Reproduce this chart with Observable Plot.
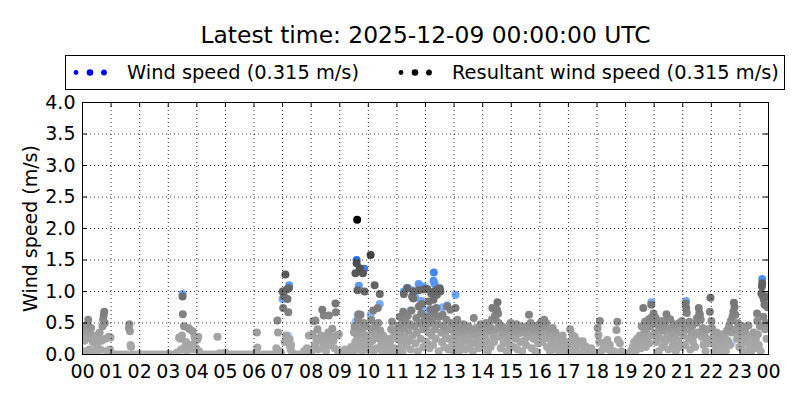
<!DOCTYPE html>
<html><head><meta charset="utf-8">
<script src="https://cdn.jsdelivr.net/npm/d3@7"></script>
<script src="https://cdn.jsdelivr.net/npm/@observablehq/plot@0.6"></script>
<style>body{margin:0;background:#fff;} svg{font-family:"DejaVu Sans",sans-serif;}</style>
</head><body><div id="chart"></div>
<script>
const titleText = "Latest time: 2025-12-09 00:00:00 UTC";
const legendLabels = ["Wind speed (0.315 m/s)", "Resultant wind speed (0.315 m/s)"];
const yLabel = "Wind speed (m/s)";
const hourTicks = [0,1,2,3,4,5,6,7,8,9,10,11,12,13,14,15,16,17,18,19,20,21,22,23,24];
const yTicks = [0,0.5,1,1.5,2,2.5,3,3.5,4];

// [hour of day, resultant wind speed m/s]
const resultant = [
[0.02,0.45],[0.03,0.3],[0.05,0.05],[0.07,0.22],[0.1,0.38],[0.12,0.02],[0.15,0.28],[0.18,0.48],[0.2,0.55],[0.22,0.35],[0.25,0.08],[0.28,0.25],[0.3,0.42],[0.33,0.02],[0.36,0.2],[0.4,0.3],[0.43,0.05],[0.47,0.22],[0.5,0.15],[0.53,0.03],[0.57,0.25],[0.6,0.35],[0.63,0.08],[0.67,0.22],[0.7,0.45],[0.72,0.55],[0.74,0.62],[0.76,0.68],[0.78,0.5],[0.8,0.25],[0.83,0.05],[0.87,0.02],[0.92,0.28],[0.96,0.08],[0.98,0.27],[1.0,0.02],
[1.05,0],[1.15,0],[1.25,0],[1.35,0],[1.45,0],[1.55,0],[1.62,0.42],[1.64,0.48],[1.66,0.37],[1.68,0.15],[1.7,0.12],[1.75,0],[1.85,0],[1.95,0],
[2.05,0],[2.15,0],[2.25,0],[2.35,0],[2.45,0],[2.55,0],[2.65,0],[2.75,0],[2.85,0],[2.95,0],
[3.05,0],[3.15,0],[3.25,0],[3.3,0.03],[3.38,0.27],[3.42,0.25],[3.45,0.08],[3.48,0.3],[3.5,0.92],[3.51,0.64],[3.55,0.45],[3.58,0.12],[3.62,0.2],[3.65,0.05],[3.7,0.42],[3.75,0.4],[3.8,0.15],[3.85,0.37],[3.88,0.08],[3.92,0.28],[3.95,0.22],[3.98,0.1],
[4.02,0.24],[4.05,0.28],[4.08,0.05],[4.15,0],[4.25,0],[4.35,0],[4.45,0],[4.55,0],[4.65,0],[4.72,0.28],[4.8,0.02],[4.9,0],
[5.0,0.03],[5.1,0],[5.2,0],[5.3,0],[5.4,0],[5.5,0],[5.6,0],[5.7,0],[5.8,0],[5.9,0],
[6.0,0],[6.1,0.35],[6.12,0.11],[6.2,0],[6.3,0],[6.4,0],[6.5,0],[6.6,0],[6.7,0],[6.78,0.1],[6.82,0.54],[6.84,0.35],[6.9,0.05],[6.95,0.02],
[7.0,1.0],[7.02,0.74],[7.05,0.92],[7.08,0.2],[7.1,1.27],[7.12,0.3],[7.15,1.03],[7.17,0.88],[7.2,0.67],[7.22,1.05],[7.24,0.24],[7.26,0.13],[7.28,0.08],[7.3,0.15],[7.35,0.02],[7.45,0],[7.55,0],[7.65,0],[7.75,0.05],[7.85,0.1],[7.92,0.3],[7.95,0.05],
[8.02,0.05],[8.05,0.32],[8.08,0.53],[8.12,0.15],[8.15,0.54],[8.18,0.25],[8.22,0.4],[8.25,0.08],[8.3,0.22],[8.35,0.3],[8.39,0.71],[8.42,0.12],[8.44,0.62],[8.48,0.28],[8.52,0.05],[8.55,0.2],[8.6,0.35],[8.62,0.62],[8.66,0.15],[8.7,0.28],[8.74,0.41],[8.78,0.22],[8.82,0.1],[8.85,0.81],[8.86,0.67],[8.9,0.3],[8.94,0.05],[8.97,0.32],
[9.02,0.05],[9.1,0.02],[9.18,0.08],[9.25,0],[9.32,0.03],[9.4,0.12],[9.45,0.02],[9.5,0.35],[9.52,0.45],[9.54,0.2],[9.55,1.29],[9.57,0.08],[9.59,1.45],[9.6,0.3],[9.61,2.14],[9.62,1.02],[9.64,0.55],[9.66,0.64],[9.68,0.15],[9.7,1.37],[9.72,0.42],[9.73,0.63],[9.76,0.25],[9.78,0.05],[9.8,0.35],[9.81,1.29],[9.84,0.5],[9.86,0.12],[9.87,1.0],[9.9,0.3],[9.93,0.45],[9.96,0.2],[9.98,0.08],
[10.02,0.3],[10.05,0.15],[10.08,1.58],[10.1,0.55],[10.12,0.4],[10.14,0.22],[10.17,0.7],[10.19,0.05],[10.22,1.1],[10.24,0.45],[10.26,0.32],[10.3,0.1],[10.33,0.74],[10.35,0.5],[10.38,0.25],[10.4,0.96],[10.42,0.38],[10.45,0.15],[10.48,0.05],[10.52,0.3],[10.55,0.18],[10.6,0.08],[10.64,0.25],[10.68,0.12],[10.72,0.02],[10.76,0.2],[10.8,0.4],[10.83,0.52],[10.86,0.28],[10.9,0.1],[10.94,0.35],[10.97,0.05],
[11.02,0.25],[11.05,0.45],[11.08,0.1],[11.1,0.6],[11.12,0.35],[11.15,0.2],[11.18,0.5],[11.2,0.05],[11.22,0.68],[11.24,0.96],[11.26,0.42],[11.28,0.28],[11.3,0.55],[11.33,0.15],[11.36,1.05],[11.38,0.62],[11.4,0.38],[11.43,0.22],[11.46,0.48],[11.48,0.08],[11.51,0.7],[11.53,0.92],[11.55,0.3],[11.57,0.89],[11.59,1.0],[11.62,0.45],[11.65,0.18],[11.68,0.58],[11.7,0.35],[11.73,0.05],[11.76,1.02],[11.77,0.76],[11.8,0.5],[11.83,0.25],[11.85,0.65],[11.88,0.8],[11.9,0.4],[11.92,0.12],[11.94,1.03],[11.97,0.55],
[12.02,0.45],[12.04,0.2],[12.06,1.04],[12.08,0.6],[12.1,0.35],[12.12,0.84],[12.14,0.1],[12.16,0.5],[12.18,0.72],[12.2,0.97],[12.22,0.3],[12.24,0.55],[12.26,0.15],[12.28,0.87],[12.29,1.0],[12.31,0.65],[12.33,0.4],[12.36,0.25],[12.38,0.74],[12.4,0.95],[12.41,1.03],[12.44,0.48],[12.46,0.05],[12.48,0.6],[12.5,1.05],[12.52,1.0],[12.55,0.35],[12.58,0.2],[12.6,0.63],[12.63,0.45],[12.66,0.12],[12.7,0.3],[12.73,0.55],[12.76,0.76],[12.78,0.4],[12.8,0.08],[12.83,0.25],[12.87,0.71],[12.9,0.5],[12.93,0.15],[12.96,0.38],[12.98,0.05],
[13.02,0.3],[13.04,0.12],[13.05,0.74],[13.07,0.45],[13.09,0.2],[13.11,0.55],[13.14,0.35],[13.17,0.05],[13.2,0.28],[13.23,0.42],[13.26,0.15],[13.3,0.33],[13.33,0.48],[13.36,0.22],[13.4,0.08],[13.43,0.38],[13.46,0.25],[13.5,0.45],[13.53,0.12],[13.56,0.3],[13.6,0.2],[13.63,0.4],[13.66,0.05],[13.69,0.58],[13.72,0.32],[13.75,0.18],[13.79,0.42],[13.82,0.25],[13.86,0.1],[13.9,0.35],[13.93,0.48],[13.97,0.2],
[14.02,0.4],[14.05,0.15],[14.08,0.3],[14.12,0.5],[14.15,0.22],[14.18,0.05],[14.22,0.38],[14.25,0.45],[14.28,0.12],[14.32,0.55],[14.34,0.74],[14.37,0.3],[14.4,0.2],[14.43,0.62],[14.45,0.58],[14.47,0.4],[14.5,0.71],[14.52,0.83],[14.54,0.65],[14.56,0.5],[14.6,0.28],[14.63,0.1],[14.67,0.45],[14.7,0.35],[14.73,0.18],[14.77,0.42],[14.8,0.3],[14.84,0.05],[14.88,0.25],[14.92,0.4],[14.95,0.15],[14.98,0.5],
[15.02,0.3],[15.05,0.45],[15.08,0.12],[15.12,0.38],[15.15,0.25],[15.18,0.48],[15.22,0.08],[15.25,0.33],[15.28,0.42],[15.32,0.2],[15.35,0.45],[15.38,0.05],[15.42,0.35],[15.45,0.22],[15.48,0.4],[15.52,0.15],[15.55,0.45],[15.58,0.28],[15.62,0.63],[15.65,0.35],[15.68,0.5],[15.72,0.1],[15.75,0.42],[15.78,0.25],[15.82,0.38],[15.85,0.05],[15.88,0.45],[15.92,0.3],[15.95,0.18],[15.98,0.48],
[16.02,0.35],[16.05,0.52],[16.08,0.2],[16.12,0.45],[16.15,0.55],[16.18,0.3],[16.22,0.5],[16.25,0.12],[16.28,0.4],[16.32,0.25],[16.35,0.05],[16.38,0.32],[16.42,0.18],[16.45,0.42],[16.48,0.26],[16.52,0.08],[16.55,0.35],[16.6,0.15],[16.64,0.28],[16.68,0.05],[16.72,0.22],[16.76,0.12],[16.8,0.3],[16.83,0.15],[16.87,0.05],[16.9,0.2],[16.95,0.02],
[17.02,0.1],[17.06,0.4],[17.1,0.2],[17.14,0.31],[17.18,0.05],[17.22,0.28],[17.27,0.12],[17.32,0.22],[17.38,0.02],[17.43,0.15],[17.5,0.21],[17.55,0.05],[17.6,0.13],[17.66,0.02],[17.72,0.08],[17.8,0.1],[17.88,0],[17.95,0.03],
[18.02,0.42],[18.05,0.31],[18.08,0.2],[18.1,0.53],[18.15,0.05],[18.22,0.1],[18.3,0.2],[18.36,0.23],[18.4,0.08],[18.45,0.15],[18.52,0.02],[18.6,0.05],[18.68,0.39],[18.71,0.52],[18.73,0.23],[18.8,0.18],[18.86,0.05],[18.92,0.02],[18.97,0],
[19.02,0],[19.1,0.02],[19.18,0.05],[19.25,0.12],[19.3,0.2],[19.35,0.05],[19.4,0.25],[19.45,0.15],[19.5,0.3],[19.53,0.1],[19.56,0.45],[19.6,0.22],[19.62,0.74],[19.65,0.35],[19.68,0.52],[19.7,0.12],[19.73,0.4],[19.76,0.28],[19.8,0.55],[19.83,0.18],[19.86,0.45],[19.88,0.58],[19.9,0.79],[19.92,0.3],[19.95,0.5],[19.98,0.65],
[20.02,0.35],[20.05,0.58],[20.08,0.2],[20.1,0.48],[20.13,0.3],[20.16,0.05],[20.19,0.42],[20.22,0.25],[20.26,0.53],[20.29,0.12],[20.32,0.38],[20.35,0.45],[20.38,0.2],[20.4,0.53],[20.43,0.64],[20.46,0.3],[20.5,0.08],[20.53,0.42],[20.56,0.56],[20.6,0.25],[20.63,0.35],[20.66,0.15],[20.7,0.48],[20.73,0.3],[20.76,0.05],[20.8,0.4],[20.84,0.22],[20.88,0.5],[20.91,0.12],[20.94,0.35],[20.97,0.53],
[21.02,0.3],[21.05,0.45],[21.08,0.15],[21.1,0.81],[21.12,0.74],[21.14,0.66],[21.17,0.4],[21.2,0.25],[21.23,0.52],[21.26,0.08],[21.3,0.35],[21.33,0.45],[21.36,0.2],[21.4,0.3],[21.43,0.12],[21.47,0.5],[21.5,0.58],[21.53,0.35],[21.56,0.74],[21.58,0.66],[21.6,0.63],[21.63,0.55],[21.66,0.28],[21.7,0.42],[21.73,0.15],[21.77,0.35],[21.8,0.05],[21.84,0.25],[21.88,0.4],[21.92,0.18],[21.95,0.68],[21.97,0.9],
[22.0,0.53],[22.02,0.42],[22.05,0.2],[22.08,0.3],[22.12,0.05],[22.15,0.15],[22.19,0.35],[22.23,0.1],[22.27,0.25],[22.31,0.02],[22.35,0.2],[22.39,0.32],[22.43,0.12],[22.47,0.28],[22.51,0.05],[22.55,0.38],[22.58,0.22],[22.62,0.45],[22.65,0.15],[22.68,0.53],[22.71,0.35],[22.74,0.6],[22.77,0.68],[22.79,0.82],[22.81,0.75],[22.84,0.63],[22.87,0.4],[22.9,0.25],[22.93,0.5],[22.96,0.3],[22.98,0.12],
[23.02,0.35],[23.05,0.15],[23.08,0.45],[23.12,0.25],[23.15,0.05],[23.18,0.38],[23.22,0.2],[23.26,0.3],[23.3,0.46],[23.33,0.12],[23.37,0.3],[23.4,0.05],[23.44,0.2],[23.48,0.35],[23.52,0.1],[23.56,0.25],[23.6,0.65],[23.61,0.53],[23.63,0.32],[23.66,0.15],[23.7,0.45],[23.73,0.05],[23.75,0.97],[23.77,1.08],[23.78,1.13],[23.8,0.93],[23.82,0.6],[23.84,0.87],[23.86,0.79],[23.88,0.4],[23.9,0.5],[23.93,0.25],[23.96,0.75],[23.98,0.92]
];

// [hour of day, wind speed m/s] where it shows above the resultant
const windSpeed = [
[3.5,0.96],[7.0,0.88],[7.2,0.3],[7.23,1.1],[7.25,0.25],[9.5,0.38],[9.55,0.52],[9.59,1.5],[9.62,0.62],[9.67,1.09],[9.75,0.45],[9.82,0.24],[9.86,1.36],
[10.08,0.63],[10.2,0.45],[10.4,0.8],[11.24,1.0],[11.3,0.6],[11.36,1.06],[11.47,0.7],[11.53,1.02],[11.65,0.9],[11.76,1.12],[11.85,0.85],[11.92,1.08],
[12.0,0.7],[12.15,0.68],[12.22,0.5],[12.28,1.17],[12.29,1.3],[12.28,0.4],[12.32,1.12],[12.35,0.62],[12.6,0.75],[12.76,0.78],[13.05,0.95],
[19.9,0.83],[21.12,0.85],[21.73,0.23],[22.72,0.18],[23.78,1.2],[23.84,0.93],[23.93,0.5]
];

const greyShade = d3.scaleLinear().domain([0,0.3,0.6,1.0,1.3,1.6,2.15])
  .range(["#ababab","#a3a3a3","#858585","#686868","#575757","#424242","#000000"]).clamp(true);
const blueShade = d3.scaleLinear().domain([0,0.4,0.8,1.1,1.3,1.5,2.15])
  .range(["#c4d8fa","#aac8fa","#7aabf7","#5b9af5","#4287f5","#2a6ef5","#0000ff"]).clamp(true);

const byValue = (a) => d3.sort(a, d => d[1]);

const chart = Plot.plot({
  width: 800, height: 400,
  marginTop: 102, marginBottom: 46, marginLeft: 82, marginRight: 32,
  style: {fontFamily: "DejaVu Sans, sans-serif", fontSize: "19px", background: "white", color: "black"},
  x: {domain: [0, 24]},
  y: {domain: [0, 4]},
  color: {type: "identity"},
  marks: [
    Plot.dot(byValue(windSpeed), {x: d => d[0], y: d => d[1], r: 4, fill: d => blueShade(d[1]), clip: true}),
    Plot.dot(byValue(resultant), {x: d => d[0], y: d => d[1], r: 4, fill: d => greyShade(d[1]), clip: true}),
    Plot.gridX(hourTicks, {stroke: "#000", strokeOpacity: 1, strokeWidth: 0.8, strokeDasharray: "1,3"}),
    Plot.gridY(yTicks, {stroke: "#000", strokeOpacity: 1, strokeWidth: 0.8, strokeDasharray: "1,3"}),
    Plot.tickX(hourTicks, {x: d => d, insetTop: 247, stroke: "#000"}),
    Plot.tickX(hourTicks, {x: d => d, insetBottom: 247, stroke: "#000"}),
    Plot.tickY(yTicks, {y: d => d, insetRight: 681, stroke: "#000"}),
    Plot.tickY(yTicks, {y: d => d, insetLeft: 681, stroke: "#000"}),
    Plot.frame({stroke: "#000"}),
    Plot.axisX(hourTicks, {tickSize: 0, tickPadding: 10, tickFormat: d => String(d % 24).padStart(2, "0"), fontSize: 19, label: null}),
    Plot.axisY(yTicks, {tickSize: 0, tickPadding: 7, tickFormat: d => d.toFixed(1), fontSize: 19, label: null}),
    Plot.text([yLabel], {frameAnchor: "left", text: d => d, rotate: -90, dx: -52, fontSize: 19, textAnchor: "middle", lineAnchor: "middle"}),
    Plot.text([titleText], {frameAnchor: "top", text: d => d, dy: -67, fontSize: 23.4, textAnchor: "middle", lineAnchor: "middle"})
  ]
});
document.getElementById("chart").append(chart);

// legend box
const svg = d3.select(chart);
const lg = svg.append("g").attr("text-anchor", "start");
lg.append("rect").attr("x", 65.5).attr("y", 55.5).attr("width", 719).attr("height", 34)
  .attr("fill", "white").attr("stroke", "black");
const legendItems = [
  {label: legendLabels[0], color: "#0000ff", x0: 76, tx: 127},
  {label: legendLabels[1], color: "#000000", x0: 401, tx: 452}
];
const legendRadii = [2.4, 3.3, 2.9];
for (const it of legendItems) {
  legendRadii.forEach((r, i) => {
    lg.append("circle").attr("cx", it.x0 + i * 14).attr("cy", 72.5).attr("r", r).attr("fill", it.color);
  });
  lg.append("text").attr("x", it.tx).attr("y", 78.5).attr("font-size", 19.4).attr("text-anchor", "start")
    .attr("font-family", "DejaVu Sans, sans-serif").attr("fill", "black").text(it.label);
}
</script>
</body></html>
